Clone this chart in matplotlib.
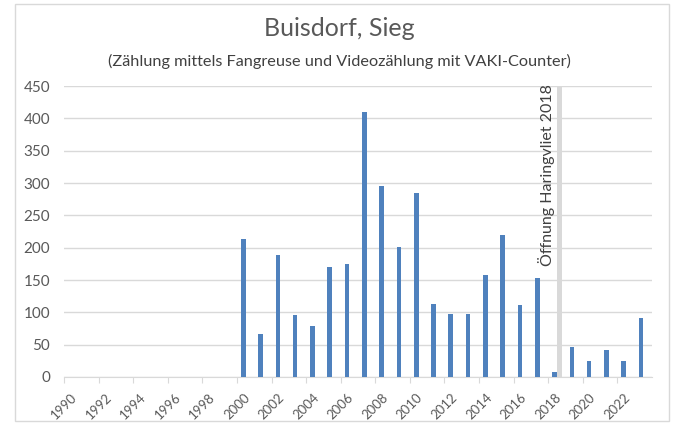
import matplotlib
matplotlib.use("Agg")
import matplotlib.pyplot as plt
from matplotlib.patches import Rectangle
import numpy as np

plt.rcParams['font.family'] = ['Lato', 'DejaVu Sans']

# data
years = list(range(1990, 2024))
counts = [0] * 10 + [213, 66, 188, 96, 79, 170, 175, 410, 295, 201,
                     284, 113, 98, 98, 158, 219, 111, 153, 7, 47,
                     25, 42, 24, 92]
# marker series (grey bar) for opening of Haringvliet
marker = [0] * 34
marker[years.index(2018)] = 450
marker_label = "Öffnung Haringvliet 2018"

title = "Buisdorf, Sieg"
subtitle = "(Zählung mittels Fangreuse und Videozählung mit VAKI-Counter)"

fig = plt.figure(figsize=(6.75, 4.25), dpi=100)
ax = fig.add_axes([64 / 675, 48 / 425, 588 / 675, 291 / 425])

x = np.arange(len(years))
w = 0.27
ax.bar(x - w / 2, counts, width=w, color="#4F81BD", zorder=3)
ax.bar(x + w / 2, marker, width=w, color="#D9D9D9", zorder=3)

i18 = years.index(2018)
ax.text(i18 - 0.6, 453, marker_label, rotation=90, ha="center", va="top",
        fontsize=11.5, color="#404040", zorder=4)

ax.set_xlim(-0.5, len(years) - 0.5)
ax.set_ylim(0, 450)
ax.set_yticks(range(0, 451, 50))
ax.yaxis.grid(True, color="#D9D9D9", linewidth=1, zorder=0)
ax.tick_params(axis="y", length=0, labelsize=11, labelcolor="#595959", pad=10)

tick_pos = [i - 0.5 for i in range(0, len(years), 2)]
ax.set_xticks(tick_pos)
ax.set_xticklabels([str(years[i]) for i in range(0, len(years), 2)],
                   rotation=45, ha="center", va="top")
ax.tick_params(axis="x", length=4, color="#D9D9D9", labelsize=9.5,
               labelcolor="#595959", pad=6)

for s in ["left", "right", "top"]:
    ax.spines[s].set_visible(False)
ax.spines["bottom"].set_color("#D9D9D9")

fig.text(339 / 675, 1 - 29 / 425, title, ha="center", va="center",
         fontsize=18, color="#595959")
fig.text(339 / 675, 1 - 61 / 425, subtitle, ha="center", va="center",
         fontsize=11.7, color="#404040")

# chart frame
fig.patches.append(Rectangle((15 / 675, 4 / 425), 654 / 675, 417 / 425,
                             transform=fig.transFigure, fill=False,
                             edgecolor="#D9D9D9", linewidth=1))

fig.savefig("out.png", dpi=100)
